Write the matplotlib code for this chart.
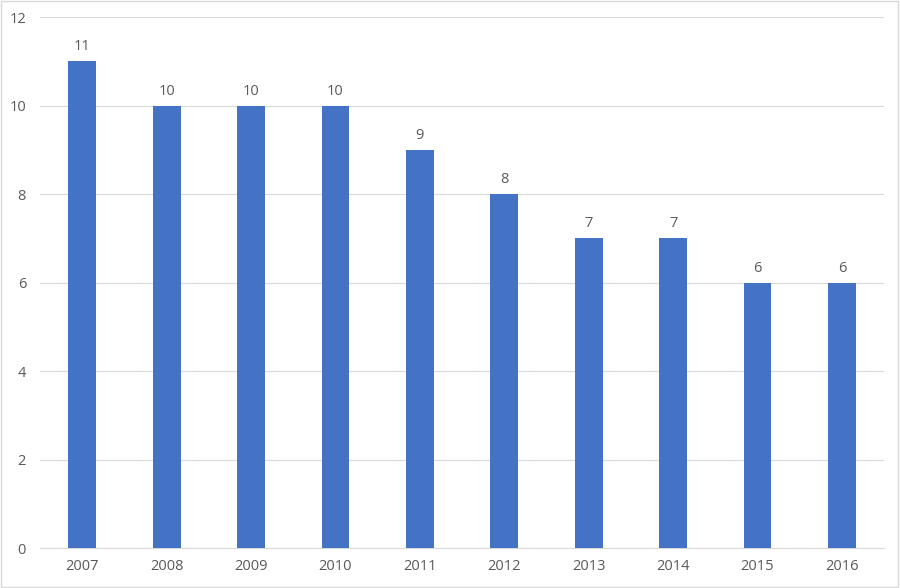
import matplotlib
matplotlib.use("Agg")
import matplotlib.pyplot as plt
from matplotlib.patches import Rectangle

years = ["2007", "2008", "2009", "2010", "2011", "2012", "2013", "2014", "2015", "2016"]
values = [11, 10, 10, 10, 9, 8, 7, 7, 6, 6]
y_ticks = [0, 2, 4, 6, 8, 10, 12]


def main():
    plt.rcParams["font.family"] = ["Open Sans", "DejaVu Sans"]
    text_color = "#595959"

    fig = plt.figure(figsize=(9, 5.88), dpi=100)
    ax = fig.add_axes([0.0444, 0.068, 0.938, 0.903])

    x = list(range(len(years)))
    ax.bar(x, values, width=0.33, color="#4472C4", zorder=3)

    for xi, v in zip(x, values):
        ax.annotate(str(v), (xi, v), xytext=(0, 5), textcoords="offset points",
                    ha="center", va="bottom", fontsize=10.5, color=text_color)

    ax.set_xlim(-0.5, len(years) - 0.5)
    ax.set_ylim(0, 12)
    ax.set_xticks(x)
    ax.set_xticklabels(years)
    ax.set_yticks(y_ticks)
    ax.grid(axis="y", color="#D9D9D9", linewidth=0.8, zorder=0)
    ax.tick_params(axis="both", length=0, labelsize=10.5, colors=text_color)
    ax.tick_params(axis="x", pad=8)
    ax.tick_params(axis="y", pad=10)

    for side in ["top", "right", "left"]:
        ax.spines[side].set_visible(False)
    ax.spines["bottom"].set_color("#D9D9D9")
    ax.spines["bottom"].set_linewidth(0.8)

    # faint frame around the whole chart
    fig.patches.append(Rectangle((0.001, 0.002), 0.997, 0.996, transform=fig.transFigure,
                                 fill=False, edgecolor="#D9D9D9", linewidth=1))

    fig.savefig("out.png", dpi=100)


if __name__ == "__main__":
    main()
